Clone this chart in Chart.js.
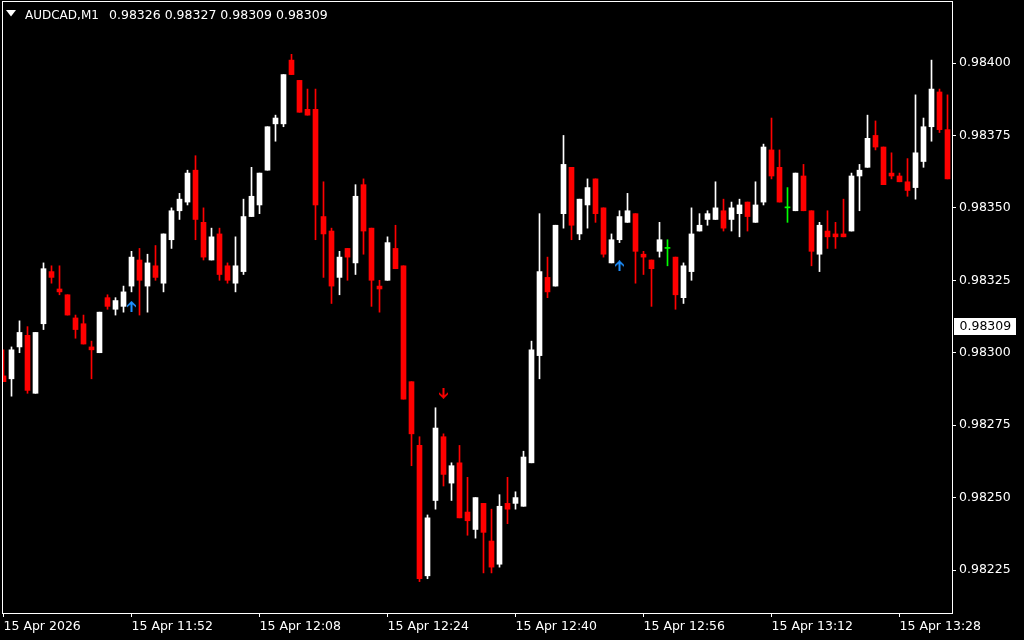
<!DOCTYPE html>
<html><head><meta charset="utf-8">
<style>html,body{margin:0;padding:0;background:#000;overflow:hidden}#wrap{width:1024px;height:640px}</style>
<script src="https://cdn.jsdelivr.net/npm/chart.js@4.4.1/dist/chart.umd.min.js"></script>
</head><body><div id="wrap"><canvas id="c" width="1024" height="640"></canvas></div>
<script>
const symbolTitle = 'AUDCAD,M1';
const titleQuote = '0.98326 0.98327 0.98309 0.98309';
const lastPrice = 0.98309;
const tickIndex = [0, 16, 32, 48, 64, 80, 96, 112];
const tickLabels = ['15 Apr 2026', '15 Apr 11:52', '15 Apr 12:08', '15 Apr 12:24', '15 Apr 12:40', '15 Apr 12:56', '15 Apr 13:12', '15 Apr 13:28'];
const priceTicks = [0.98225, 0.98250, 0.98275, 0.98300, 0.98325, 0.98350, 0.98375, 0.98400];

const opens = [
0.98292,0.98291,0.98302,0.98306,0.98286,0.98310,0.98328,0.98322,0.98320,0.98312,
0.98310,0.98302,0.98300,0.98319,0.98315,0.98316,0.98323,0.98332,0.98323,0.98330,
0.98324,0.98339,0.98349,0.98352,0.98363,0.98345,0.98332,0.98341,0.98330,0.98324,
0.98328,0.98347,0.98351,0.98363,0.98379,0.98379,0.98401,0.98394,0.98384,0.98384,
0.98347,0.98342,0.98326,0.98336,0.98331,0.98358,0.98343,0.98323,0.98325,0.98336,
0.98330,0.98290,0.98268,0.98223,0.98249,0.98271,0.98255,0.98262,0.98245,0.98239,
0.98248,0.98235,0.98227,0.98248,0.98248,0.98247,0.98262,0.98299,0.98326,0.98323,
0.98348,0.98364,0.98341,0.98351,0.98360,0.98350,0.98331,0.98339,0.98345,0.98348,
0.98334,0.98332,0.98335,0.98336,0.98333,0.98319,0.98328,0.98342,0.98346,0.98346,
0.98349,0.98346,0.98348,0.98352,0.98345,0.98352,0.98370,0.98364,0.98350,0.98349,
0.98361,0.98349,0.98334,0.98342,0.98341,0.98341,0.98342,0.98361,0.98364,0.98375,
0.98371,0.98362,0.98361,0.98359,0.98357,0.98366,0.98378,0.98390,0.98377];
const highs = [
0.98301,0.98302,0.98311,0.98309,0.98307,0.98331,0.98330,0.98330,0.98320,0.98313,
0.98313,0.98304,0.98314,0.98320,0.98319,0.98323,0.98335,0.98336,0.98334,0.98337,
0.98341,0.98350,0.98355,0.98363,0.98368,0.98350,0.98343,0.98343,0.98331,0.98340,
0.98353,0.98364,0.98362,0.98378,0.98382,0.98396,0.98403,0.98394,0.98391,0.98391,
0.98359,0.98343,0.98335,0.98336,0.98358,0.98360,0.98343,0.98325,0.98340,0.98344,
0.98330,0.98290,0.98271,0.98244,0.98281,0.98272,0.98262,0.98268,0.98257,0.98250,
0.98248,0.98246,0.98251,0.98257,0.98252,0.98266,0.98304,0.98348,0.98333,0.98344,
0.98375,0.98364,0.98353,0.98360,0.98360,0.98350,0.98341,0.98349,0.98355,0.98348,
0.98335,0.98332,0.98345,0.98339,0.98333,0.98331,0.98350,0.98348,0.98349,0.98359,
0.98353,0.98352,0.98353,0.98352,0.98359,0.98372,0.98381,0.98370,0.98357,0.98362,
0.98365,0.98349,0.98345,0.98349,0.98345,0.98353,0.98362,0.98365,0.98382,0.98380,
0.98371,0.98369,0.98362,0.98367,0.98389,0.98381,0.98401,0.98391,0.98389];
const lows = [
0.98290,0.98285,0.98300,0.98286,0.98286,0.98308,0.98324,0.98320,0.98313,0.98305,
0.98303,0.98291,0.98300,0.98315,0.98313,0.98314,0.98321,0.98313,0.98314,0.98325,
0.98321,0.98336,0.98346,0.98351,0.98339,0.98332,0.98332,0.98325,0.98324,0.98321,
0.98327,0.98347,0.98348,0.98363,0.98373,0.98378,0.98396,0.98383,0.98382,0.98339,
0.98326,0.98317,0.98320,0.98325,0.98327,0.98334,0.98316,0.98314,0.98325,0.98329,
0.98284,0.98261,0.98221,0.98222,0.98246,0.98254,0.98249,0.98243,0.98237,0.98236,
0.98224,0.98224,0.98226,0.98241,0.98246,0.98247,0.98262,0.98291,0.98319,0.98323,
0.98343,0.98339,0.98339,0.98343,0.98345,0.98333,0.98331,0.98338,0.98345,0.98324,
0.98327,0.98316,0.98333,0.98330,0.98315,0.98317,0.98325,0.98342,0.98344,0.98346,
0.98342,0.98342,0.98340,0.98342,0.98345,0.98351,0.98360,0.98352,0.98345,0.98349,
0.98349,0.98330,0.98328,0.98336,0.98336,0.98340,0.98342,0.98349,0.98364,0.98370,
0.98358,0.98360,0.98359,0.98354,0.98353,0.98364,0.98373,0.98376,0.98360];
const closes = [
0.98290,0.98301,0.98307,0.98287,0.98307,0.98329,0.98326,0.98321,0.98313,0.98308,
0.98303,0.98301,0.98314,0.98316,0.98318,0.98321,0.98333,0.98325,0.98331,0.98326,
0.98341,0.98349,0.98353,0.98362,0.98346,0.98333,0.98340,0.98327,0.98325,0.98330,
0.98347,0.98354,0.98362,0.98378,0.98381,0.98396,0.98396,0.98383,0.98382,0.98351,
0.98341,0.98323,0.98333,0.98333,0.98354,0.98342,0.98325,0.98322,0.98338,0.98329,
0.98284,0.98272,0.98222,0.98243,0.98274,0.98258,0.98261,0.98243,0.98242,0.98250,
0.98238,0.98226,0.98247,0.98246,0.98250,0.98264,0.98301,0.98328,0.98321,0.98344,
0.98365,0.98344,0.98353,0.98357,0.98348,0.98334,0.98339,0.98347,0.98349,0.98335,
0.98333,0.98329,0.98339,0.98336,0.98320,0.98330,0.98341,0.98344,0.98348,0.98350,
0.98343,0.98350,0.98351,0.98347,0.98351,0.98371,0.98361,0.98352,0.98350,0.98362,
0.98349,0.98335,0.98344,0.98340,0.98340,0.98340,0.98361,0.98363,0.98374,0.98371,
0.98358,0.98361,0.98359,0.98356,0.98369,0.98378,0.98391,0.98377,0.98360];

const upSignalIndex = [16, 77];
const upSignalPrice = [0.98316, 0.98330];
const downSignalIndex = [55];
const downSignalPrice = [0.98286];

const BULL = '#ffffff', BEAR = '#ff0000', DOJI = '#00ff00';
const candleColors = opens.map((o, i) => closes[i] > o ? BULL : (closes[i] < o ? BEAR : DOJI));

function makeArrow(color, up) {
  const c = document.createElement('canvas'); c.width = 9; c.height = 11;
  const g = c.getContext('2d'); g.fillStyle = color; g.beginPath();
  const pts = [[4.5,0],[9,4.5],[9,6.5],[5.5,3.5],[5.5,11],[3.5,11],[3.5,3.5],[0,6.5],[0,4.5]];
  pts.forEach(([x, y], k) => { const yy = up ? y : 11 - y; if (k) g.lineTo(x, yy); else g.moveTo(x, yy); });
  g.closePath(); g.fill(); return c;
}
const upArrow = makeArrow('#1e90ff', true);
const downArrow = makeArrow('#ff0000', false);

const framePlugin = {
  id: 'mtFrame',
  beforeDraw(chart) {
    const ctx = chart.ctx; ctx.save(); ctx.fillStyle = '#000'; ctx.fillRect(0, 0, chart.width, chart.height); ctx.restore();
  },
  afterDraw(chart) {
    const ctx = chart.ctx, a = chart.chartArea, ys = chart.scales.y;
    ctx.save();
    ctx.strokeStyle = '#fff'; ctx.lineWidth = 1;
    ctx.strokeRect(a.left + 0.5, a.top + 0.5, a.right - a.left, a.bottom - a.top);
    ctx.fillStyle = '#fff';
    ctx.beginPath(); ctx.moveTo(6, 10); ctx.lineTo(16, 10); ctx.lineTo(11, 16.5); ctx.closePath(); ctx.fill();
    ctx.font = '12px "DejaVu Sans"'; ctx.textBaseline = 'alphabetic'; ctx.textAlign = 'left';
    ctx.fillText(symbolTitle, 25, 18.5);
    ctx.font = '12.5px "DejaVu Sans"';
    ctx.fillText(titleQuote, 109, 18.5);
    const py = ys.getPixelForValue(lastPrice);
    ctx.fillStyle = '#fff'; ctx.fillRect(954, Math.round(py) - 9, 62, 17);
    ctx.fillStyle = '#000'; ctx.font = '12.5px "DejaVu Sans"'; ctx.textBaseline = 'middle';
    ctx.fillText(lastPrice.toFixed(5), 959.5, py + 0.5);
    ctx.restore();
  }
};

new Chart(document.getElementById('c'), {
  type: 'bar',
  data: {
    datasets: [
      { label: 'body', data: opens.map((o, i) => ({ x: i, y: [o, closes[i]] })), backgroundColor: candleColors,
        barThickness: 5, grouped: false, borderWidth: 0, minBarLength: 1, order: 1 },
      { label: 'wick', data: lows.map((l, i) => ({ x: i, y: [l, highs[i]] })), backgroundColor: candleColors,
        barThickness: 1, grouped: false, borderWidth: 0, order: 2 },
      { type: 'scatter', label: 'up', data: upSignalIndex.map((x, k) => ({ x: x, y: upSignalPrice[k] })),
        pointStyle: upArrow, pointRadius: 5, order: 0 },
      { type: 'scatter', label: 'down', data: downSignalIndex.map((x, k) => ({ x: x, y: downSignalPrice[k] })),
        pointStyle: downArrow, pointRadius: 5, order: 0 }
    ]
  },
  options: {
    responsive: false, animation: false, devicePixelRatio: 1, events: [],
    layout: { autoPadding: false, padding: { left: 2, top: 1, right: 0, bottom: 0 } },
    plugins: { legend: { display: false }, tooltip: { enabled: false } },
    scales: {
      x: {
        type: 'linear', position: 'bottom', min: -0.1875, max: 118.5625, offset: false,
        afterBuildTicks: s => { s.ticks = tickIndex.map(v => ({ value: v })); },
        afterFit: s => { s.height = 27; s.paddingLeft = 0; s.paddingRight = 0; },
        ticks: { callback: (v, i) => tickLabels[i], align: 'start', autoSkip: false, maxRotation: 0, minRotation: 0,
          color: '#fff', font: { family: 'DejaVu Sans', size: 12.5 }, padding: 2 },
        grid: { drawOnChartArea: false, drawTicks: true, tickLength: 4, color: '#fff', offset: false },
        border: { display: true, color: '#fff' }
      },
      y: {
        type: 'linear', position: 'right', min: 0.98210162, max: 0.98421400,
        afterBuildTicks: s => { s.ticks = priceTicks.map(v => ({ value: v })); },
        afterFit: s => { s.width = 72; s.paddingTop = 0; s.paddingBottom = 0; },
        ticks: { callback: v => v.toFixed(5), color: '#fff', font: { family: 'DejaVu Sans', size: 12.5 }, padding: 3 },
        grid: { drawOnChartArea: false, drawTicks: true, tickLength: 4, color: '#fff' },
        border: { display: true, color: '#fff' }
      }
    }
  },
  plugins: [framePlugin]
});
</script></body></html>
